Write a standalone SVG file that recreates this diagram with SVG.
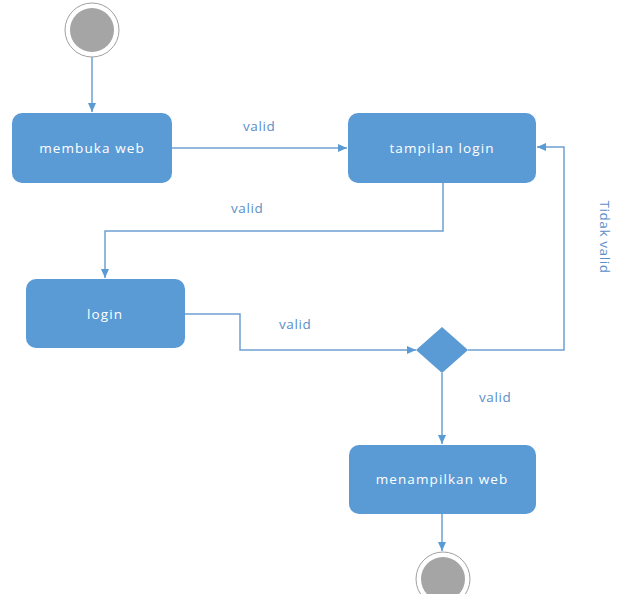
<svg xmlns="http://www.w3.org/2000/svg" width="624" height="594" viewBox="0 0 624 594">
<defs>
<style>
.box{fill:#5B9BD5;}
.bt{fill:#ffffff;font-family:"Open Sans",sans-serif;font-size:13.5px;letter-spacing:1.1px;text-anchor:middle;}
.lbl{fill:#5B8EC7;font-family:"Open Sans",sans-serif;font-size:13.5px;letter-spacing:0.6px;}
.c{fill:none;stroke:#6FA0D2;stroke-width:1.5;}
.outer{fill:#ffffff;stroke:#A0A0A0;stroke-width:1;}
.inner{fill:#A5A5A5;}
</style>
<marker id="ah" markerWidth="10" markerHeight="10" refX="9" refY="5" orient="auto" markerUnits="userSpaceOnUse">
<path d="M0,1 L9,5 L0,9 Z" fill="#5B9BD5"/>
</marker>
</defs>
<rect width="624" height="594" fill="#ffffff"/>
<g id="connectors">
<path class="c" d="M92,56 L92,112" marker-end="url(#ah)"/>
<path class="c" d="M172,148 L347,148" marker-end="url(#ah)"/>
<path class="c" d="M443,183 L443,231 L105,231 L105,278" marker-end="url(#ah)"/>
<path class="c" d="M185,314 L240,314 L240,350 L416,350" marker-end="url(#ah)"/>
<path class="c" d="M468,350 L564,350 L564,147 L537,147" marker-end="url(#ah)"/>
<path class="c" d="M442,373 L442,444" marker-end="url(#ah)"/>
<path class="c" d="M442,514 L442,551" marker-end="url(#ah)"/>
<text class="lbl" x="243" y="131">valid</text>
<text class="lbl" x="231" y="213">valid</text>
<text class="lbl" x="279" y="329">valid</text>
<text class="lbl" x="479" y="402">valid</text>
<text class="lbl" transform="translate(600,237) rotate(90)" text-anchor="middle">Tidak valid</text>
</g>
<g id="start">
<circle class="outer" cx="92" cy="30" r="27"/>
<circle class="inner" cx="92" cy="30" r="22"/>
</g>
<g id="membuka">
<rect class="box" x="12" y="113" width="160" height="70" rx="10"/>
<text class="bt" x="92" y="153">membuka web</text>
</g>
<g id="tampilan">
<rect class="box" x="348" y="113" width="188" height="70" rx="10"/>
<text class="bt" x="442" y="153">tampilan login</text>
</g>
<g id="login">
<rect class="box" x="26" y="279" width="159" height="69" rx="10"/>
<text class="bt" x="105" y="319">login</text>
</g>
<g id="decision">
<path class="box" d="M442,327 L468,350 L442,373 L416,350 Z"/>
</g>
<g id="menampilkan">
<rect class="box" x="349" y="445" width="187" height="69" rx="10"/>
<text class="bt" x="442" y="484">menampilkan web</text>
</g>
<g id="end">
<circle class="outer" cx="443" cy="579" r="27"/>
<circle class="inner" cx="443" cy="579" r="22"/>
</g>
</svg>
